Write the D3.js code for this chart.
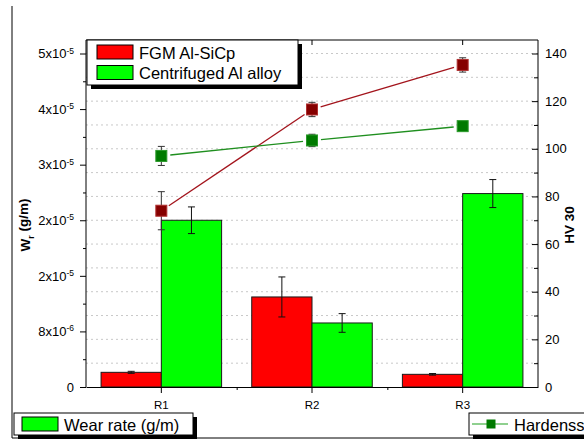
<!DOCTYPE html>
<html>
<head>
<meta charset="utf-8">
<script src="https://cdn.jsdelivr.net/npm/d3@7"></script>
<style>
  body { margin: 0; background: #fff; }
  svg { display: block; font-family: "Liberation Sans", Arial, sans-serif; }
</style>
</head>
<body>
<svg id="chart"></svg>
<script>
// data
const samples = ["R1", "R2", "R3"];
const wearFGM = [2.2e-6, 1.35e-5, 1.9e-6];
const wearFGMErr = [0.15e-6, 3.0e-6, 0.12e-6];
const wearAlloy = [2.5e-5, 9.6e-6, 2.9e-5];
const wearAlloyErr = [2.0e-6, 1.4e-6, 2.1e-6];
const hardFGM = [74, 116.5, 135.2];
const hardFGMErr = [8, 3, 3];
const hardAlloy = [97, 103.5, 109.5];
const hardAlloyErr = [4, 2.6, 1.2];

const wearTickValues = [0, 8.333e-6, 1.6667e-5, 2.5e-5, 3.3333e-5, 4.1667e-5, 5e-5];
const wearTickLabels = [["0", ""], ["8x10", "-6"], ["2x10", "-5"], ["2x10", "-5"], ["3x10", "-5"], ["4x10", "-5"], ["5x10", "-5"]];
const hvTickValues = [0, 20, 40, 60, 80, 100, 120, 140];
const hvGridValues = [10, 20, 30, 40, 50, 60, 70, 80, 90, 100, 110, 120, 130, 140];

const barSeries = ["FGM Al-SiCp", "Centrifuged Al alloy"];
const barColors = ["#ff0000", "#00ff00"];

const width = 584;
const height = 440;
const plotL = 86, plotR = 538, plotT = 40, plotB = 387;

const svg = d3.select("#chart").attr("width", width).attr("height", height);

const x = d3.scaleBand().domain(samples).range([plotL, plotR]).padding(0);
const yL = d3.scaleLinear().domain([0, 5e-5]).range([plotB, 53.5]);
const yR = d3.scaleLinear().domain([0, 140]).range([plotB, 53.5]);
const bw = x.bandwidth();

// outer frame (left + bottom only visible)
svg.append("line").attr("x1", 12).attr("x2", 12).attr("y1", 6).attr("y2", 438).attr("stroke", "#000");
svg.append("line").attr("x1", 12).attr("x2", width).attr("y1", 438).attr("y2", 438).attr("stroke", "#000");

// dotted grid from the hardness axis
svg.append("g")
  .selectAll("line")
  .data(hvGridValues)
  .join("line")
  .attr("x1", plotL)
  .attr("x2", plotR)
  .attr("y1", (d) => yR(d))
  .attr("y2", (d) => yR(d))
  .attr("stroke", "#c8c8c8")
  .attr("stroke-dasharray", "2 3");

// bars
const wearSets = [
  { vals: wearFGM, errs: wearFGMErr, off: 0.1 },
  { vals: wearAlloy, errs: wearAlloyErr, off: 0.5 },
];
wearSets.forEach((set, si) => {
  const g = svg.append("g");
  g.selectAll("rect")
    .data(samples)
    .join("rect")
    .attr("x", (d) => x(d) + bw * set.off)
    .attr("width", bw * 0.4)
    .attr("y", (d, i) => yL(set.vals[i]))
    .attr("height", (d, i) => yL(0) - yL(set.vals[i]))
    .attr("fill", barColors[si])
    .attr("stroke", "#1a1a1a")
    .attr("stroke-width", 1);
  // error bars
  samples.forEach((s, i) => {
    const cx = x(s) + bw * (set.off + 0.2);
    const y1 = yL(set.vals[i] + set.errs[i]);
    const y2 = yL(set.vals[i] - set.errs[i]);
    g.append("line").attr("x1", cx).attr("x2", cx).attr("y1", y1).attr("y2", y2).attr("stroke", "#111");
    [y1, y2].forEach((yy) =>
      g.append("line").attr("x1", cx - 3.5).attr("x2", cx + 3.5).attr("y1", yy).attr("y2", yy).attr("stroke", "#111")
    );
  });
});

// hardness lines + markers
const hardSets = [
  { vals: hardFGM, errs: hardFGMErr, line: "#a3141c", fill: "#850000", edge: "#b03030" },
  { vals: hardAlloy, errs: hardAlloyErr, line: "#1f8f1f", fill: "#007a00", edge: "#2a9a2a" },
];
hardSets.forEach((set) => {
  const g = svg.append("g");
  const pts = samples.map((s, i) => [x(s) + bw / 2, yR(set.vals[i])]);
  for (let i = 0; i < pts.length - 1; i++) {
    const [ax, ay] = pts[i];
    const [bx, by] = pts[i + 1];
    const len = Math.hypot(bx - ax, by - ay);
    const ux = (bx - ax) / len, uy = (by - ay) / len;
    const gap = 9;
    g.append("line")
      .attr("x1", ax + ux * gap).attr("y1", ay + uy * gap)
      .attr("x2", bx - ux * gap).attr("y2", by - uy * gap)
      .attr("stroke", set.line).attr("stroke-width", 1.3);
  }
  samples.forEach((s, i) => {
    const cx = x(s) + bw / 2;
    const y1 = yR(set.vals[i] + set.errs[i]);
    const y2 = yR(set.vals[i] - set.errs[i]);
    g.append("line").attr("x1", cx).attr("x2", cx).attr("y1", y1).attr("y2", y2).attr("stroke", "#333");
    [y1, y2].forEach((yy) =>
      g.append("line").attr("x1", cx - 3.5).attr("x2", cx + 3.5).attr("y1", yy).attr("y2", yy).attr("stroke", "#333")
    );
  });
  g.selectAll("rect")
    .data(pts)
    .join("rect")
    .attr("x", (d) => d[0] - 5.5)
    .attr("y", (d) => d[1] - 5.5)
    .attr("width", 11)
    .attr("height", 11)
    .attr("fill", set.fill)
    .attr("stroke", set.edge)
    .attr("stroke-width", 1);
});

// axes
const axisStyle = (g) => {
  g.selectAll(".domain").attr("stroke", "#000");
  g.selectAll(".tick line").attr("stroke", "#000");
  g.selectAll("text").attr("fill", "#000").style("font-family", '"Liberation Sans", Arial, sans-serif');
};

// left axis
const gL = svg.append("g").attr("transform", `translate(${plotL},0)`)
  .call(d3.axisLeft(yL).tickValues(wearTickValues).tickSize(6).tickPadding(6).tickFormat(""))
  .call(axisStyle);
gL.select(".domain").attr("d", `M0,${plotB}V${plotT}`);
gL.selectAll(".tick text")
  .style("font-size", "13px")
  .each(function (d, i) {
    const t = d3.select(this);
    t.append("tspan").text(wearTickLabels[i][0]);
    if (wearTickLabels[i][1]) {
      t.append("tspan").attr("dy", "-0.55em").style("font-size", "8.5px").text(wearTickLabels[i][1]);
    }
  });
const wearMinor = wearTickValues.slice(0, -1).map((v, i) => (v + wearTickValues[i + 1]) / 2);
svg.append("g").attr("transform", `translate(${plotL},0)`)
  .call(d3.axisLeft(yL).tickValues(wearMinor).tickSize(3).tickFormat(""))
  .call(axisStyle)
  .select(".domain").remove();

// right axis (ticks inward)
const gR = svg.append("g").attr("transform", `translate(${plotR},0)`)
  .call(d3.axisRight(yR).tickValues(hvTickValues).tickSizeInner(-6).tickSizeOuter(0).tickPadding(7))
  .call(axisStyle);
gR.select(".domain").attr("d", `M0,${plotB}V${plotT}`);
gR.selectAll(".tick text").style("font-size", "13px");
svg.append("g").attr("transform", `translate(${plotR},0)`)
  .call(d3.axisRight(yR).tickValues(hvGridValues.filter((v) => v % 20 !== 0)).tickSize(-4).tickFormat(""))
  .call(axisStyle)
  .select(".domain").remove();

// bottom axis
const gB = svg.append("g").attr("transform", `translate(0,${plotB})`)
  .call(d3.axisBottom(x).tickSize(6).tickSizeOuter(0).tickPadding(8))
  .call(axisStyle);
gB.selectAll(".tick text").style("font-size", "11.5px");
const xPix = d3.scaleIdentity().domain([0, width]);
const xMinor = samples.slice(1).map((s) => x(s));
svg.append("g").attr("transform", `translate(0,${plotB})`)
  .call(d3.axisBottom(xPix).tickValues(xMinor).tickSize(3).tickFormat(""))
  .call(axisStyle)
  .select(".domain").remove();

// top axis (ticks inward)
const gT = svg.append("g").attr("transform", `translate(0,${plotT})`)
  .call(d3.axisTop(x).tickSizeInner(-5).tickSizeOuter(0).tickFormat(""))
  .call(axisStyle);
gT.select(".domain").attr("d", `M${plotL},0H${plotR}`);

// axis titles
const yTitle = svg.append("text")
  .attr("transform", `translate(30,225) rotate(-90)`)
  .attr("text-anchor", "middle")
  .style("font-size", "13.5px")
  .style("font-weight", "bold");
yTitle.append("tspan").text("W");
yTitle.append("tspan").attr("dy", "0.4em").style("font-size", "9px").text("r");
yTitle.append("tspan").attr("dy", "-0.4em").text(" (g/m)");

svg.append("text")
  .attr("transform", `translate(574,225) rotate(-90)`)
  .attr("text-anchor", "middle")
  .style("font-size", "13.5px")
  .style("font-weight", "bold")
  .text("HV 30");

// legends
const legendFont = "16.5px";
function legendBox(x0, y0, w, h) {
  const g = svg.append("g");
  g.append("rect").attr("x", x0 + 4).attr("y", y0 + 4).attr("width", w).attr("height", h).attr("fill", "#000");
  g.append("rect").attr("x", x0).attr("y", y0).attr("width", w).attr("height", h)
    .attr("fill", "#fff").attr("stroke", "#000").attr("stroke-width", 1);
  return g;
}

const lgTop = legendBox(87, 40, 211, 45);
barSeries.forEach((name, i) => {
  lgTop.append("rect").attr("x", 97).attr("y", 45 + i * 20.5).attr("width", 36).attr("height", 14)
    .attr("fill", barColors[i]).attr("stroke", "#000");
  lgTop.append("text").attr("x", 139).attr("y", 58.5 + i * 20.5).style("font-size", legendFont).text(name);
});

const lgWear = legendBox(14, 413, 179, 22);
lgWear.append("rect").attr("x", 22).attr("y", 417).attr("width", 36).attr("height", 14)
  .attr("fill", barColors[1]).attr("stroke", "#000");
lgWear.append("text").attr("x", 64).attr("y", 430.5).style("font-size", legendFont).text("Wear rate (g/m)");

const lgHard = legendBox(469, 413, 140, 22);
lgHard.append("line").attr("x1", 472).attr("x2", 508).attr("y1", 424).attr("y2", 424)
  .attr("stroke", "#8fd08f").attr("stroke-width", 2);
lgHard.append("rect").attr("x", 486.5).attr("y", 419.5).attr("width", 9).attr("height", 9).attr("fill", "#007a00");
lgHard.append("text").attr("x", 514).attr("y", 430.5).style("font-size", legendFont).text("Hardenss");
</script>
</body>
</html>
